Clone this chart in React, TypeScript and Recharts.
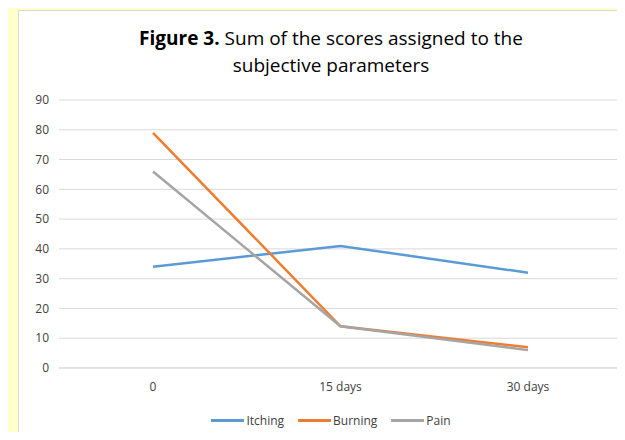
import React from "react";
import { LineChart, Line, XAxis, YAxis, CartesianGrid } from "recharts";

const timepoints = ["0", "15 days", "30 days"];
const itching = [34, 41, 32];
const burning = [79, 14, 7];
const pain = [66, 14, 6];
const yTicks = [0, 10, 20, 30, 40, 50, 60, 70, 80, 90];

const seriesList = [
  { key: "itching", name: "Itching", color: "#5B9BD5" },
  { key: "burning", name: "Burning", color: "#ED7D31" },
  { key: "pain", name: "Pain", color: "#A5A5A5" },
];

const data = timepoints.map((t, i) => ({
  label: t,
  itching: itching[i],
  burning: burning[i],
  pain: pain[i],
}));

const font = "'Open Sans', 'Noto Sans', sans-serif";

export default function App() {
  return (
    <div
      style={{
        margin: -8,
        width: 625,
        height: 440,
        background: "#FFFFCC",
        position: "relative",
        overflow: "hidden",
        fontFamily: font,
      }}
    >
      <div
        style={{
          position: "absolute",
          left: 18,
          top: 10,
          width: 607,
          height: 430,
          background: "#fff",
          borderLeft: "1px solid #d9d9d9",
          borderTop: "1px solid #d9d9d9",
          boxSizing: "border-box",
        }}
      >
        <div
          style={{
            position: "absolute",
            left: 0,
            top: 14,
            width: 624,
            textAlign: "center",
            fontSize: 19,
            lineHeight: "27px",
            color: "#000",
          }}
        >
          <b>Figure 3.</b> Sum of the scores assigned to the
          <br />
          subjective parameters
        </div>
        <LineChart
          width={607}
          height={430}
          data={data}
          margin={{ top: 89, right: 4, bottom: 0, left: 0 }}
        >
          <CartesianGrid vertical={false} stroke="#d9d9d9" strokeWidth={1} />
          <XAxis
            dataKey="label"
            axisLine={{ stroke: "#d9d9d9" }}
            tickLine={false}
            tickMargin={8}
            height={73}
            padding={{ left: 94, right: 94 }}
            tick={{ fill: "#404040", fontSize: 12, fontFamily: font }}
          />
          <YAxis
            domain={[0, 90]}
            ticks={yTicks}
            width={40}
            axisLine={false}
            tickLine={false}
            tickMargin={4}
            tick={{ fill: "#404040", fontSize: 12, fontFamily: font }}
          />
          {seriesList.map((s) => (
            <Line
              key={s.key}
              dataKey={s.key}
              name={s.name}
              stroke={s.color}
              strokeWidth={2.5}
              dot={false}
              activeDot={false}
              isAnimationActive={false}
            />
          ))}
        </LineChart>
        <div
          style={{
            position: "absolute",
            left: 0,
            top: 401,
            width: 624,
            display: "flex",
            justifyContent: "center",
            fontSize: 12,
            color: "#404040",
          }}
        >
          {seriesList.map((s) => (
            <div
              key={s.key}
              style={{ display: "flex", alignItems: "center", margin: "0 7px" }}
            >
              <span
                style={{
                  display: "inline-block",
                  width: 33,
                  height: 3,
                  background: s.color,
                  marginRight: 2,
                }}
              />
              <span>{s.name}</span>
            </div>
          ))}
        </div>
      </div>
    </div>
  );
}
